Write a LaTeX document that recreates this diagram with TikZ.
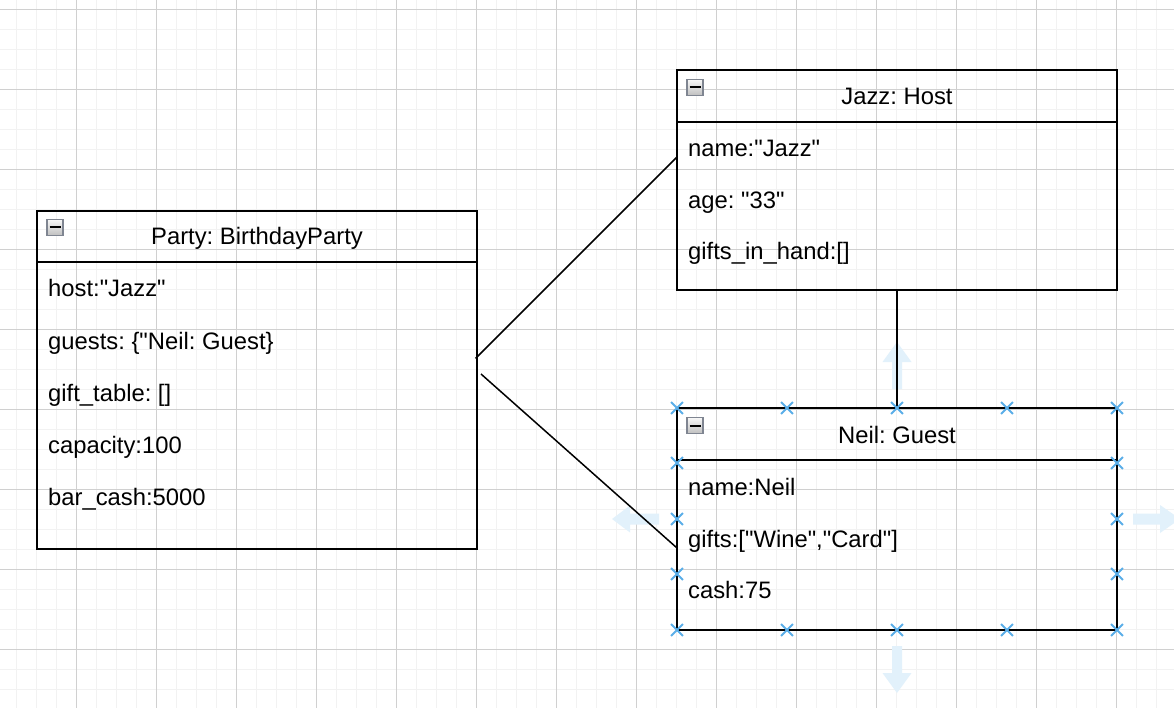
\documentclass[tikz,border=0pt]{standalone}
\usepackage{fontspec}
\setmainfont{Liberation Sans}
\setmonofont{Liberation Sans}
\usetikzlibrary{shapes.misc}
\definecolor{gridmajor}{HTML}{D0D0D0}
\definecolor{gridminor}{HTML}{F2F2F2}
\definecolor{markblue}{HTML}{5AAEE8}
\definecolor{hintblue}{HTML}{E2F1FB}
\definecolor{iconborder}{HTML}{7F8591}
\frenchspacing
\begin{document}
\begin{tikzpicture}[x=1pt,y=-1pt,
  minorgrid/.style={gridminor,line width=1.3pt},
  majorgrid/.style={gridmajor,line width=1pt},
  umlbox/.style={draw=black,line width=1.7pt,rectangle,inner sep=0pt,outer sep=0pt,anchor=north west,minimum width=440pt},
  headline/.style={black,line width=1.7pt},
  titletext/.style={anchor=base,inner sep=0pt,font=\ttfamily\frenchspacing\fontsize{23.8}{28}\selectfont},
  rowtext/.style={anchor=base west,inner sep=0pt,font=\ttfamily\frenchspacing\fontsize{23.8}{28}\selectfont},
  collapse/.style={rectangle,draw=iconborder,line width=1.3pt,top color=gray!6,bottom color=gray!50,minimum size=16pt,inner sep=0pt,
    path picture={\draw[black,line width=2pt] ([xshift=-5.5pt]path picture bounding box.center) -- ([xshift=5.5pt]path picture bounding box.center);}},
  link/.style={black,line width=1.5pt},
  xmark/.style={cross out,draw=markblue,line width=1.9pt,minimum size=10pt,inner sep=0pt},
  hint/.style={fill=hintblue,draw=none}
]
\useasboundingbox (0,0) rectangle (1174,708);
\fill[white] (0,0) rectangle (1174,708);
% grid
\foreach \x in {16.5,36.5,...,1174} \draw[minorgrid] (\x,0) -- (\x,708);
\foreach \y in {9.5,29.5,...,708} \draw[minorgrid] (0,\y) -- (1174,\y);
\foreach \x in {76.5,156.5,...,1174} \draw[majorgrid] (\x,0) -- (\x,708);
\foreach \y in {9.5,89.5,...,708} \draw[majorgrid] (0,\y) -- (1174,\y);

% hint arrows around Neil
\fill[hint] (897,342) -- (911.5,362) -- (902,362) -- (902,389) -- (892,389) -- (892,362) -- (882.5,362) -- cycle;
\fill[hint] (897,693) -- (911.5,673) -- (902,673) -- (902,646) -- (892,646) -- (892,673) -- (882.5,673) -- cycle;
\fill[hint] (612,519) -- (630,505.5) -- (630,513.5) -- (659,513.5) -- (659,524.5) -- (630,524.5) -- (630,532.5) -- cycle;
\fill[hint] (1180,519) -- (1160,505) -- (1160,513.5) -- (1133,513.5) -- (1133,524.5) -- (1160,524.5) -- (1160,533) -- cycle;

% Party box
\node[umlbox,minimum height=338pt] (party) at (37,211) {};
\draw[headline] ([yshift=-51pt]party.north west) -- ([yshift=-51pt]party.north east);
\node[collapse] (partyC) at ([xshift=18pt,yshift=-16.5pt]party.north west) {};
\node[titletext] (partyT) at ([yshift=-34pt]party.north) {Party: BirthdayParty};
\node[rowtext] (p1) at ([xshift=11pt,yshift=-86pt]party.north west) {host:"Jazz"};
\node[rowtext] (p2) at ([xshift=11pt,yshift=-138pt]party.north west) {guests: \{"Neil: Guest\}};
\node[rowtext] (p3) at ([xshift=11pt,yshift=-190pt]party.north west) {gift\_table: []};
\node[rowtext] (p4) at ([xshift=11pt,yshift=-242pt]party.north west) {capacity:100};
\node[rowtext] (p5) at ([xshift=11pt,yshift=-294pt]party.north west) {bar\_cash:5000};

% Jazz box
\node[umlbox,minimum height=220pt] (jazz) at (677,70) {};
\draw[headline] ([yshift=-52pt]jazz.north west) -- ([yshift=-52pt]jazz.north east);
\node[collapse] (jazzC) at ([xshift=18pt,yshift=-17.5pt]jazz.north west) {};
\node[titletext] (jazzT) at ([yshift=-35pt]jazz.north) {Jazz: Host};
\node[rowtext] (j1) at ([xshift=11pt,yshift=-87pt]jazz.north west) {name:"Jazz"};
\node[rowtext] (j2) at ([xshift=11pt,yshift=-139pt]jazz.north west) {age: "33"};
\node[rowtext] (j3) at ([xshift=11pt,yshift=-190pt]jazz.north west) {gifts\_in\_hand:[]};

% Neil box
\node[umlbox,minimum height=222pt] (neil) at (677,408) {};
\draw[headline] ([yshift=-52pt]neil.north west) -- ([yshift=-52pt]neil.north east);
\node[collapse] (neilC) at ([xshift=18pt,yshift=-17.5pt]neil.north west) {};
\node[titletext] (neilT) at ([yshift=-35pt]neil.north) {Neil: Guest};
\node[rowtext] (n1) at ([xshift=11pt,yshift=-87pt]neil.north west) {name:Neil};
\node[rowtext] (n2) at ([xshift=11pt,yshift=-139pt]neil.north west) {gifts:["Wine","Card"]};
\node[rowtext] (n3) at ([xshift=11pt,yshift=-190pt]neil.north west) {cash:75};

% connectors
\draw[link] ([xshift=-1.5pt,yshift=21.5pt]party.east) -- ([yshift=23pt]jazz.west);
\draw[link] ([xshift=4pt,yshift=6pt]party.east) -- ([yshift=-29pt]neil.west);
\draw[link] (jazz.south) -- (neil.north);

% selection markers on Neil
\foreach \x in {677,787,897,1007,1117} {
  \node[xmark] at (\x,408) {};
  \node[xmark] at (\x,630) {};
}
\foreach \y in {463,519,574} {
  \node[xmark] at (677,\y) {};
  \node[xmark] at (1117,\y) {};
}
\end{tikzpicture}
\end{document}
